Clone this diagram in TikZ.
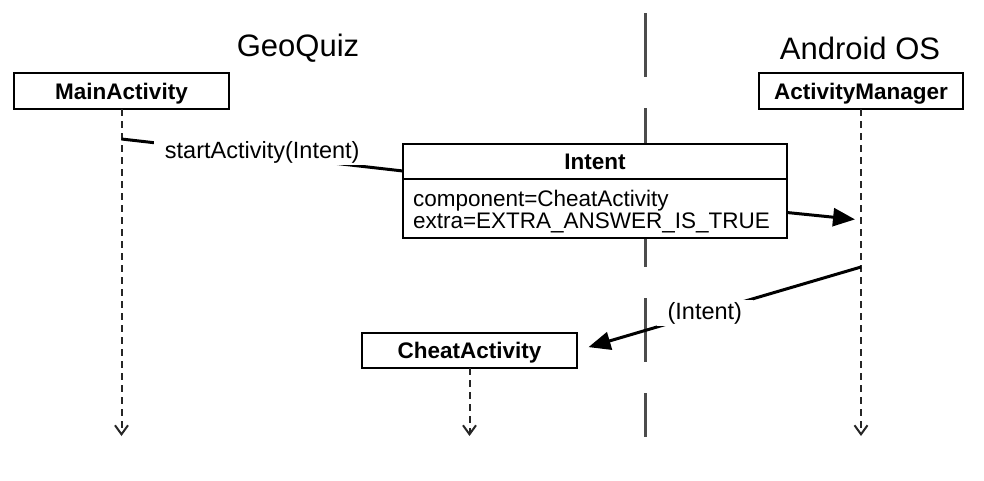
\documentclass[tikz,border=0pt]{standalone}
\usepackage{fontspec}
\setmainfont{Liberation Sans}
\usetikzlibrary{arrows.meta,positioning}

\newcommand{\boxfont}{\fontsize{22.5}{24}\selectfont\bfseries}
\newcommand{\fieldfont}{\fontsize{22.5}{22}\selectfont}
\newcommand{\msgfont}{\fontsize{23.5}{23}\selectfont}
\newcommand{\titlefont}{\fontsize{31}{36}\selectfont}

\begin{document}
\begin{tikzpicture}[x=1pt, y=-1pt, >={Triangle[length=22pt,width=18pt]},
    actor/.style={draw, line width=1.5pt, fill=white, font=\boxfont, inner sep=0pt, outer sep=0pt, minimum height=36pt, text depth=0pt},
    lifeline/.style={line width=2pt, draw=black!85, dash pattern=on 7pt off 5pt, -{Straight Barb[length=9pt,width=13pt,line width=2pt]}},
    separator/.style={line width=3pt, draw=black!70, dash pattern=on 64pt off 31pt},
    msg/.style={line width=3pt},
    msglabel/.style={fill=white, font=\msgfont, inner xsep=11pt, inner ysep=2pt}]
    \useasboundingbox (0,0) rectangle (984,480);

    % Divider between app and OS
    \coordinate (septop) at (645,13);
    \coordinate (sepbot) at (645,437);
    \draw [separator] (septop) -- (sepbot);

    % Titles
    \node [font=\titlefont]   (geoquiz)  at (298,48)  {GeoQuiz};
    \node [font=\titlefont]   (android)  at (860,48)  {Android OS};

    % Nodes {main, am, cheat, intent}
    \node [actor, minimum width=215pt]   (main)    at (121.5,91)   {MainActivity};
    \node [actor, minimum width=204pt]   (am)      at (861,91)     {ActivityManager};
    \node [actor, minimum width=215pt, minimum height=35pt]   (cheat)   at (469.5,350.5) {CheatActivity};
    \node [actor, minimum width=384pt, minimum height=35pt]   (intent)  at (595,161.5)   {Intent};
    \node [actor, minimum width=384pt, minimum height=59pt, text width=364pt, align=left,
           text height=17pt, text depth=21pt, font=\fieldfont, below=0pt of intent]
                                                               (fields)  {component=CheatActivity\\extra=EXTRA\_ANSWER\_IS\_TRUE};

    % Lifelines
    \coordinate (mainend)  at (121.5,436);
    \coordinate (amend)    at (861,436);
    \coordinate (cheatend) at (469.5,436);
    \draw [lifeline] (main)  -- (mainend);
    \draw [lifeline] (am)    -- (amend);
    \draw [lifeline] (cheat) -- (cheatend);

    % Paths
    \coordinate (mainout)  at (121.5,139);
    \coordinate (intentin) at (403,171);
    \coordinate (amin)     at (861,220);
    \coordinate (amout)    at (861,267);
    \path [msg]      (mainout)                edge  node [msglabel, yshift=3pt]  {startActivity(Intent)}  (intentin);
    \path [msg, ->]  ([yshift=-4pt]fields.east) edge [shorten >=6pt]  (amin);
    \path [msg, ->]  (amout)                  edge [shorten >=12pt] node [msglabel, pos=0.55]  {(Intent)}  (cheat.east);

\end{tikzpicture}
\end{document}
